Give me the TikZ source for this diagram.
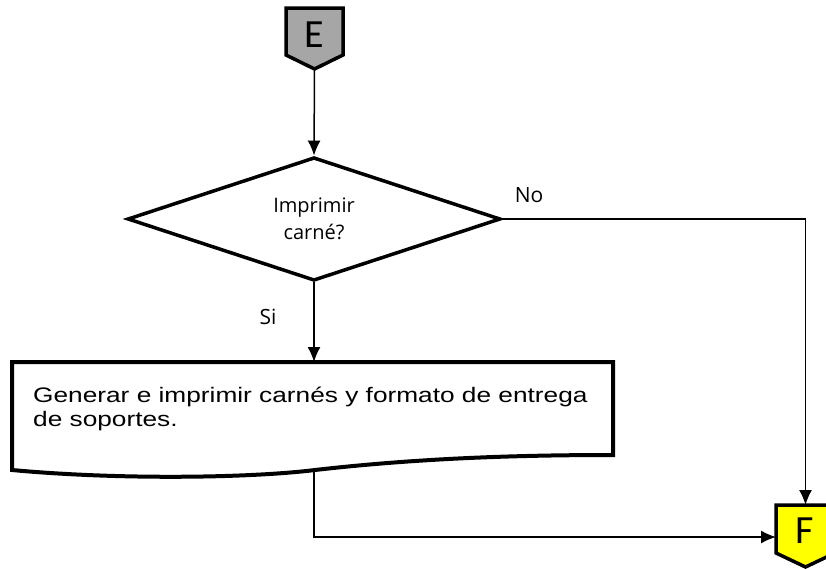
\documentclass[tikz,border=0pt]{standalone}
\usepackage{fontspec}
\setmainfont{Liberation Sans}
\newfontfamily\docfont[FakeStretch=1.25]{Liberation Sans}
\newfontfamily\segoe{Open Sans}
\newfontfamily\calib{Carlito}
\usepackage{tikz}
\usetikzlibrary{arrows.meta,shapes.geometric,positioning,calc}
\definecolor{conngray}{HTML}{A6A6A6}
\definecolor{connyellow}{HTML}{FFFF00}

\begin{document}
\begin{tikzpicture}[x=1pt,y=-1pt,
  flow/.style={line width=1.5pt,-{Latex[length=15pt,width=13pt]}},
  thickline/.style={line width=3.5pt,line join=miter},
  label/.style={font=\segoe\fontsize{21}{25}\selectfont,inner sep=0pt},
  letter/.style={font=\calib\fontsize{40}{40}\selectfont,inner sep=0pt}]
\useasboundingbox (0,0) rectangle (826,568);
% conector de entrada
\draw[thickline,fill=conngray] (286,8) -- (343,8) -- (343,55) -- (314.5,69) -- (286,55) -- cycle;
\node[letter] (E) at (314.5,35) {E};
\coordinate (Etip) at (314.5,70);
% decision
\node[draw,thickline,shape=diamond,minimum width=373pt,minimum height=120pt,inner sep=0pt,
  align=center,font=\segoe\fontsize{20}{27}\selectfont] (dec) at (314,219) {Imprimir\\carné?};
\draw[flow] (Etip) -- (dec.north);
% documento
\draw[line width=4pt,line join=miter] (12,470) -- (12,362) -- (613,362) -- (613,455)
  .. controls (520,455) and (420,458) .. (315,470)
  .. controls (250,478) and (120,480) .. cycle;
\coordinate (doctop) at (314,362);
\coordinate (docout) at (314,471);
\node[anchor=base west,inner sep=0pt,align=left,
  font=\docfont\fontsize{21}{24}\selectfont] (doctxt) at (33,426)
  {Generar e imprimir carnés y formato de entrega\\de soportes.};
\draw[flow] (dec.south) -- (doctop);
\node[label] (si) at (268,317) {Si};
% conector de salida
\draw[thickline,fill=connyellow] (776,505) -- (835,505) -- (835,553) -- (805.5,567) -- (776,553) -- cycle;
\node[letter] (F) at (805,531) {F};
\coordinate (Ftop) at (805.5,505);
\coordinate (Fin) at (776,537);
\draw[flow] (dec.east) -| (Ftop);
\node[label] (no) at (529,195) {No};
\draw[flow] (docout) |- (Fin);
\end{tikzpicture}
\end{document}
